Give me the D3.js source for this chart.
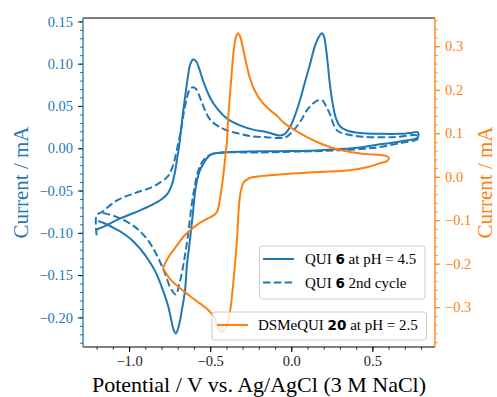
<!DOCTYPE html>
<html><head><meta charset="utf-8">
<script src="https://cdn.jsdelivr.net/npm/d3@7"></script>
<style>body{margin:0;background:#fff;} svg{display:block;}</style>
</head><body><svg id="c" width="497" height="397"></svg>
<script>
// ---- data (potential V, current mA) ----
const solidV = [-1.2,-1.149,-1.068,-0.964,-0.859,-0.797,-0.760,-0.736,-0.717,-0.705,-0.692,-0.680,-0.668,-0.655,-0.637,-0.625,-0.606,-0.587,-0.569,-0.544,-0.501,-0.458,-0.396,-0.316,-0.236,-0.150,-0.070,-0.039,-0.008,0.023,0.054,0.084,0.115,0.146,0.171,0.189,0.202,0.214,0.226,0.239,0.257,0.276,0.300,0.343,0.424,0.547,0.670,0.732,0.78,
  0.78,0.670,0.528,0.424,0.300,0.115,-0.070,-0.316,-0.421,-0.471,-0.507,-0.538,-0.563,-0.581,-0.594,-0.606,-0.625,-0.643,-0.655,-0.674,-0.692,-0.711,-0.723,-0.742,-0.760,-0.791,-0.840,-0.902,-0.964,-1.025,-1.087,-1.149,-1.19];
const solidI = [-0.096,-0.092,-0.084,-0.076,-0.067,-0.060,-0.053,-0.043,-0.028,-0.014,0.002,0.021,0.041,0.060,0.085,0.098,0.105,0.103,0.095,0.080,0.060,0.047,0.035,0.027,0.022,0.019,0.015,0.017,0.025,0.039,0.057,0.078,0.099,0.121,0.132,0.136,0.132,0.118,0.098,0.074,0.051,0.035,0.026,0.021,0.018,0.017,0.017,0.018,0.019,
  0.013,0.008,0.004,0.001,-0.001,-0.003,-0.0035,-0.004,-0.005,-0.006,-0.009,-0.017,-0.026,-0.038,-0.053,-0.076,-0.109,-0.138,-0.168,-0.191,-0.209,-0.219,-0.216,-0.201,-0.186,-0.168,-0.145,-0.126,-0.112,-0.102,-0.095,-0.089,-0.086];

const dashedV = [-1.2,-1.2,-1.173,-1.068,-0.964,-0.859,-0.797,-0.760,-0.736,-0.717,-0.699,-0.680,-0.662,-0.643,-0.625,-0.606,-0.587,-0.563,-0.532,-0.501,-0.458,-0.396,-0.316,-0.236,-0.150,-0.070,-0.033,0.004,0.054,0.097,0.134,0.171,0.195,0.214,0.239,0.263,0.288,0.331,0.424,0.627,0.78,
  0.78,0.670,0.528,0.424,0.220,0.010,-0.193,-0.421,-0.489,-0.532,-0.563,-0.581,-0.600,-0.618,-0.637,-0.655,-0.674,-0.692,-0.711,-0.729,-0.748,-0.779,-0.822,-0.883,-0.964,-1.068,-1.149,-1.179];
const dashedI = [-0.103,-0.079,-0.076,-0.061,-0.053,-0.046,-0.039,-0.033,-0.024,-0.012,0.004,0.021,0.043,0.060,0.070,0.072,0.070,0.060,0.045,0.034,0.027,0.021,0.017,0.014,0.013,0.012,0.013,0.019,0.031,0.045,0.053,0.057,0.056,0.050,0.040,0.027,0.020,0.017,0.014,0.013,0.015,
  0.011,0.006,0.001,-0.001,-0.003,-0.004,-0.005,-0.005,-0.007,-0.012,-0.021,-0.032,-0.050,-0.073,-0.103,-0.126,-0.147,-0.162,-0.173,-0.170,-0.164,-0.148,-0.129,-0.109,-0.093,-0.082,-0.077,-0.076];

const orangeV = [-0.791,-0.760,-0.717,-0.655,-0.575,-0.520,-0.483,-0.458,-0.446,-0.434,-0.421,-0.409,-0.396,-0.390,-0.378,-0.366,-0.353,-0.341,-0.329,-0.316,-0.304,-0.285,-0.255,-0.224,-0.181,-0.131,-0.088,-0.051,0.010,0.097,0.177,0.257,0.362,0.467,0.547,0.584,0.602,
  0.590,0.547,0.467,0.362,0.158,-0.051,-0.174,-0.255,-0.292,-0.310,-0.322,-0.335,-0.353,-0.372,-0.390,-0.409,-0.434,-0.452,-0.471,-0.514,-0.594,-0.674,-0.748,-0.791];
const orangeI = [-0.210,-0.187,-0.164,-0.134,-0.109,-0.097,-0.090,-0.081,-0.065,-0.037,-0.003,0.038,0.084,0.130,0.188,0.245,0.296,0.321,0.330,0.323,0.307,0.273,0.227,0.197,0.172,0.153,0.140,0.126,0.110,0.091,0.077,0.066,0.057,0.052,0.050,0.048,0.043,
  0.036,0.031,0.022,0.015,0.011,0.006,0.002,-0.003,-0.012,-0.031,-0.065,-0.146,-0.226,-0.295,-0.334,-0.352,-0.356,-0.349,-0.325,-0.306,-0.283,-0.260,-0.235,-0.210];

const xTicks = [-1.0,-0.5,0.0,0.5];
const leftTicks = [-0.20,-0.15,-0.10,-0.05,0.00,0.05,0.10,0.15];
const rightTicks = [-0.3,-0.2,-0.1,0.0,0.1,0.2,0.3];
const xLabel = "Potential / V vs. Ag/AgCl (3 M NaCl)";
const yLabel = "Current / mA";

// ---- layout ----
const blue = "#1f77b4", orange = "#ff7f0e";
const L = 83, T = 18, R = 435, B = 347;
const serif = "'Liberation Serif', 'Times New Roman', serif";
const svg = d3.select("#c");
const x = d3.scaleLinear().domain([-1.284, 0.886]).range([L, R]);
const yL = d3.scaleLinear().domain([-0.235, 0.154]).range([B, T]);
const yR = d3.scaleLinear().domain([-0.3915, 0.365]).range([B, T]);
const fmt = (d, p) => d3.format("." + p + "f")(d).replace("-", "\u2212");

svg.append("defs").append("clipPath").attr("id", "clip")
  .append("rect").attr("x", L).attr("y", T).attr("width", R - L).attr("height", B - T);

const plot = svg.append("g").attr("clip-path", "url(#clip)");
function series(vs, is, ys) { return vs.map((v, k) => [x(v), ys(is[k])]); }
const line = d3.line().curve(d3.curveCatmullRom.alpha(0.5));

plot.append("path").attr("d", line(series(solidV, solidI, yL)))
  .attr("fill", "none").attr("stroke", blue).attr("stroke-width", 2).attr("stroke-linejoin", "round");
plot.append("path").attr("d", line(series(dashedV, dashedI, yL)))
  .attr("fill", "none").attr("stroke", blue).attr("stroke-width", 2).attr("stroke-dasharray", "7.5,3.3");

// legend 1 (QUI 6)
function legendBox(g, x0, y0, w, h) {
  g.append("rect").attr("x", x0).attr("y", y0).attr("width", w).attr("height", h).attr("rx", 3)
    .attr("fill", "#fff").attr("fill-opacity", 0.8).attr("stroke", "#cccccc").attr("stroke-width", 1);
}
function legendText(g, tx, ty, pre, bold, post) {
  const t = g.append("text").attr("x", tx).attr("y", ty).style("font-family", serif).style("font-size", "15px").attr("fill", "#000");
  t.append("tspan").text(pre);
  t.append("tspan").style("font-family", "'DejaVu Sans', sans-serif").style("font-weight", "bold").style("font-size", "13.5px").text(bold);
  t.append("tspan").text(post);
}
const lg1 = svg.append("g");
legendBox(lg1, 259.5, 246, 165.5, 53);
lg1.append("line").attr("x1", 263).attr("x2", 294).attr("y1", 259).attr("y2", 259).attr("stroke", blue).attr("stroke-width", 2);
lg1.append("line").attr("x1", 263).attr("x2", 294).attr("y1", 282.5).attr("y2", 282.5).attr("stroke", blue).attr("stroke-width", 2).attr("stroke-dasharray", "7.5,3.3");
legendText(lg1, 305, 264, "QUI ", "6", " at pH = 4.5");
legendText(lg1, 305, 287.5, "QUI ", "6", " 2nd cycle");

// orange on top (twin axis)
const plot2 = svg.append("g").attr("clip-path", "url(#clip)");
plot2.append("path").attr("d", line(series(orangeV, orangeI, yR)))
  .attr("fill", "none").attr("stroke", orange).attr("stroke-width", 2).attr("stroke-linejoin", "round");

const lg2 = svg.append("g");
legendBox(lg2, 212, 312, 214.5, 28);
lg2.append("line").attr("x1", 217).attr("x2", 248).attr("y1", 325).attr("y2", 325).attr("stroke", orange).attr("stroke-width", 2);
legendText(lg2, 258, 330, "DSMeQUI ", "20", " at pH = 2.5");

// ---- axes ----
function styleAxis(g, col, labCol) {
  g.attr("font-family", null).attr("font-size", null);
  g.select(".domain").remove();
  g.selectAll(".tick line").attr("stroke", col).attr("stroke-width", 1.1);
  g.selectAll(".tick text").attr("fill", labCol).style("font-family", serif).style("font-size", "14.5px");
}
const range = (a, b, s) => d3.range(Math.round(a / s), Math.round(b / s) + 1).map(k => +(k * s).toFixed(3));

// bottom
const gxm = svg.append("g").attr("transform", `translate(0,${B})`)
  .call(d3.axisBottom(x).tickValues(range(-1.2, 0.8, 0.1)).tickSize(2.8).tickFormat(""));
styleAxis(gxm, "#000", "#000"); gxm.selectAll(".tick line").attr("stroke-width", 0.8);
const gx = svg.append("g").attr("transform", `translate(0,${B})`)
  .call(d3.axisBottom(x).tickValues(xTicks).tickSize(5).tickPadding(4).tickFormat(d => fmt(d, 1)));
styleAxis(gx, "#000", "#222");

// left
const gym = svg.append("g").attr("transform", `translate(${L},0)`)
  .call(d3.axisLeft(yL).tickValues(range(-0.23, 0.15, 0.01)).tickSize(2.8).tickFormat(""));
styleAxis(gym, "#222", blue); gym.selectAll(".tick line").attr("stroke-width", 0.8);
const gy = svg.append("g").attr("transform", `translate(${L},0)`)
  .call(d3.axisLeft(yL).tickValues(leftTicks).tickSize(5).tickPadding(5).tickFormat(d => fmt(d, 2)));
styleAxis(gy, "#222", blue);

// right
const grm = svg.append("g").attr("transform", `translate(${R},0)`)
  .call(d3.axisRight(yR).tickValues(range(-0.38, 0.36, 0.02)).tickSize(2.8).tickFormat(""));
styleAxis(grm, orange, orange); grm.selectAll(".tick line").attr("stroke-width", 0.8);
const gr = svg.append("g").attr("transform", `translate(${R},0)`)
  .call(d3.axisRight(yR).tickValues(rightTicks).tickSize(5).tickPadding(5).tickFormat(d => fmt(d, 1)));
styleAxis(gr, orange, orange);

// spines
svg.append("line").attr("x1", L).attr("x2", R).attr("y1", T).attr("y2", T).attr("stroke", "#000").attr("stroke-width", 1.1);
svg.append("line").attr("x1", L).attr("x2", R).attr("y1", B).attr("y2", B).attr("stroke", "#000").attr("stroke-width", 1.1);
svg.append("line").attr("x1", L).attr("x2", L).attr("y1", T).attr("y2", B).attr("stroke", blue).attr("stroke-width", 1.3);
svg.append("line").attr("x1", R).attr("x2", R).attr("y1", T).attr("y2", B).attr("stroke", orange).attr("stroke-width", 1.3);

// labels
svg.append("text").attr("x", (L + R) / 2).attr("y", 392).attr("text-anchor", "middle")
  .style("font-family", serif).style("font-size", "22px").attr("fill", "#000").text(xLabel);
svg.append("text").attr("transform", `translate(28,${(T + B) / 2}) rotate(-90)`).attr("text-anchor", "middle")
  .style("font-family", serif).style("font-size", "21px").attr("fill", blue).text(yLabel);
svg.append("text").attr("transform", `translate(492,${(T + B) / 2}) rotate(-90)`).attr("text-anchor", "middle")
  .style("font-family", serif).style("font-size", "21px").attr("fill", orange).text(yLabel);
</script></body></html>
